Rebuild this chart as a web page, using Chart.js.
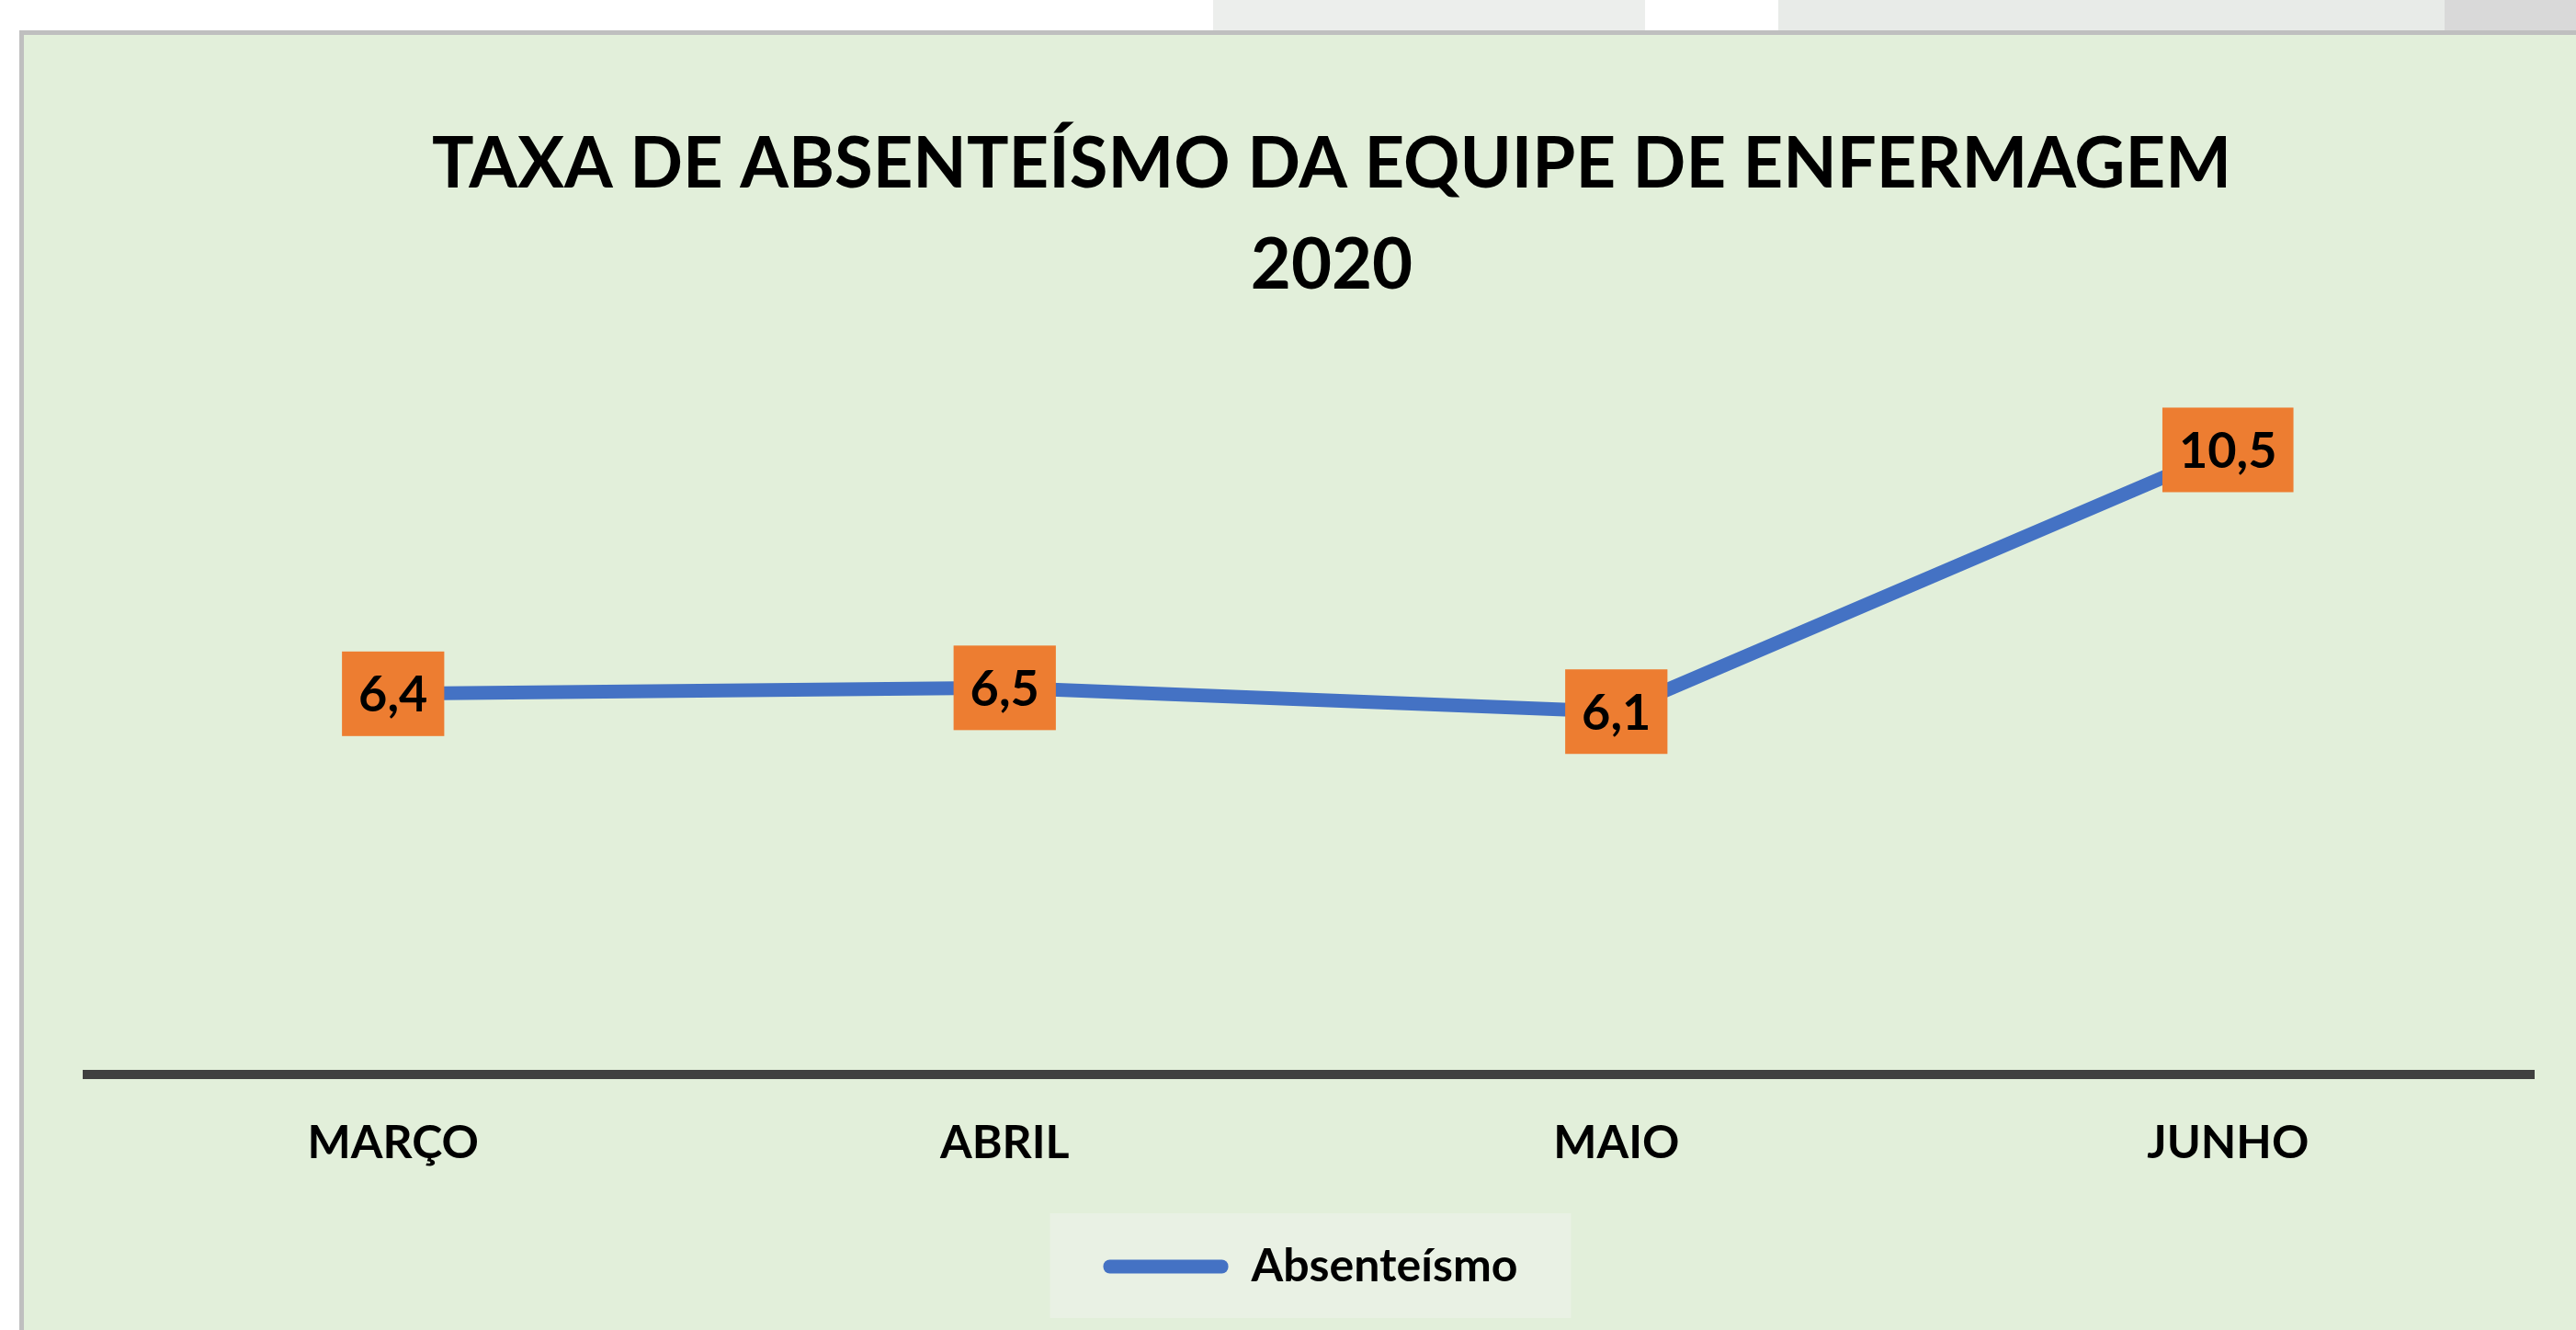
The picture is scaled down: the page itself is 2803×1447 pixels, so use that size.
<!DOCTYPE html>
<html>
<head>
<meta charset="utf-8">
<script src="https://cdn.jsdelivr.net/npm/chart.js@4/dist/chart.umd.min.js"></script>
<style>
  html, body { margin: 0; padding: 0; background: #ffffff; overflow: hidden; }
  .strip { position: absolute; top: 0; height: 33px; }
  #panel {
    position: absolute; left: 21px; top: 33px; right: 0; bottom: 0;
    border-left: 5px solid #bfbfbf; border-top: 5px solid #bfbfbf;
    background: #e2efda;
  }
  #chart { display: block; }
</style>
</head>
<body>
<div class="strip" style="left:1320px;width:470px;background:#eceeec"></div>
<div class="strip" style="left:1935px;width:725px;background:#e8ebe8"></div>
<div class="strip" style="left:2660px;width:143px;background:#d9d9d9"></div>
<div id="panel"><canvas id="chart" width="2777" height="1409"></canvas></div>
<script>
const titleLines = ['TAXA DE ABSENTEÍSMO DA EQUIPE DE ENFERMAGEM', '2020'];
const months = ['MARÇO', 'ABRIL', 'MAIO', 'JUNHO'];
const absenteeism = [6.4, 6.5, 6.1, 10.5];
const seriesName = 'Absenteísmo';
const yMin = 0;
const yMax = 12;

const lineBlue = '#4472c4';
const labelOrange = '#ed7d31';
const fontFamily = 'Lato, "Open Sans", sans-serif';

function fmt(v) {
  return String(v).replace('.', ',');
}

// orange value boxes sitting on each point
const valueBoxes = {
  id: 'valueBoxes',
  afterDatasetsDraw(chart) {
    const ctx = chart.ctx;
    const meta = chart.getDatasetMeta(0);
    const data = chart.data.datasets[0].data;
    ctx.save();
    ctx.font = 'bold 54px ' + fontFamily;
    ctx.textAlign = 'center';
    ctx.textBaseline = 'middle';
    meta.data.forEach((pt, i) => {
      const txt = fmt(data[i]);
      const w = ctx.measureText(txt).width + 36;
      const h = 92;
      ctx.fillStyle = labelOrange;
      ctx.fillRect(pt.x - w / 2, pt.y - h / 2, w, h);
      ctx.fillStyle = '#000000';
      ctx.fillText(txt, pt.x, pt.y + 2);
    });
    ctx.restore();
  }
};

// slightly lighter box behind the legend
const legendBack = {
  id: 'legendBack',
  beforeDraw(chart) {
    const lg = chart.legend;
    if (!lg || !lg.legendHitBoxes || !lg.legendHitBoxes.length) return;
    const hb = lg.legendHitBoxes[0];
    const ctx = chart.ctx;
    ctx.save();
    ctx.fillStyle = '#e9f1e4';
    ctx.fillRect(hb.left - 58, hb.top - 33, hb.width + 116, hb.height + 64);
    ctx.restore();
  }
};

function draw() {
  new Chart(document.getElementById('chart'), {
    type: 'line',
    data: {
      labels: months,
      datasets: [{
        label: seriesName,
        data: absenteeism,
        borderColor: lineBlue,
        backgroundColor: lineBlue,
        borderWidth: 15,
        pointRadius: 0,
        tension: 0,
        fill: false
      }]
    },
    options: {
      responsive: false,
      animation: false,
      devicePixelRatio: 1,
      layout: { padding: { left: 69, right: 0, top: 0, bottom: 34 } },
      scales: {
        x: {
          offset: true,
          grid: { display: false, drawTicks: false },
          border: { display: true, color: '#404040', width: 10 },
          ticks: {
            padding: 45,
            color: '#000000',
            font: { family: fontFamily, size: 50, weight: 'bold' }
          },
          afterFit: (s) => { s.height = 154; }
        },
        y: {
          position: 'right',
          min: yMin,
          max: yMax,
          grid: { display: false, drawTicks: false },
          border: { display: false },
          ticks: { display: false },
          afterFit: (s) => { s.width = 46; }
        }
      },
      plugins: {
        title: {
          display: true,
          text: titleLines,
          color: '#000000',
          font: { family: fontFamily, size: 76, weight: 'bold', lineHeight: 1.45 },
          padding: { top: 86, bottom: 48 }
        },
        legend: {
          display: true,
          position: 'bottom',
          fullSize: false,
          labels: {
            color: '#000000',
            font: { family: fontFamily, size: 50, weight: 'bold' },
            boxWidth: 136,
            boxHeight: 15,
            useBorderRadius: true,
            borderRadius: 7,
            padding: 30,
            generateLabels: (chart) =>
              Chart.defaults.plugins.legend.labels.generateLabels(chart)
                .map(l => Object.assign(l, { lineWidth: 0 }))
          }
        },
        tooltip: { enabled: false }
      }
    },
    plugins: [legendBack, valueBoxes]
  });
}

document.fonts.load('bold 80px Lato').finally(draw);
</script>
</body>
</html>
